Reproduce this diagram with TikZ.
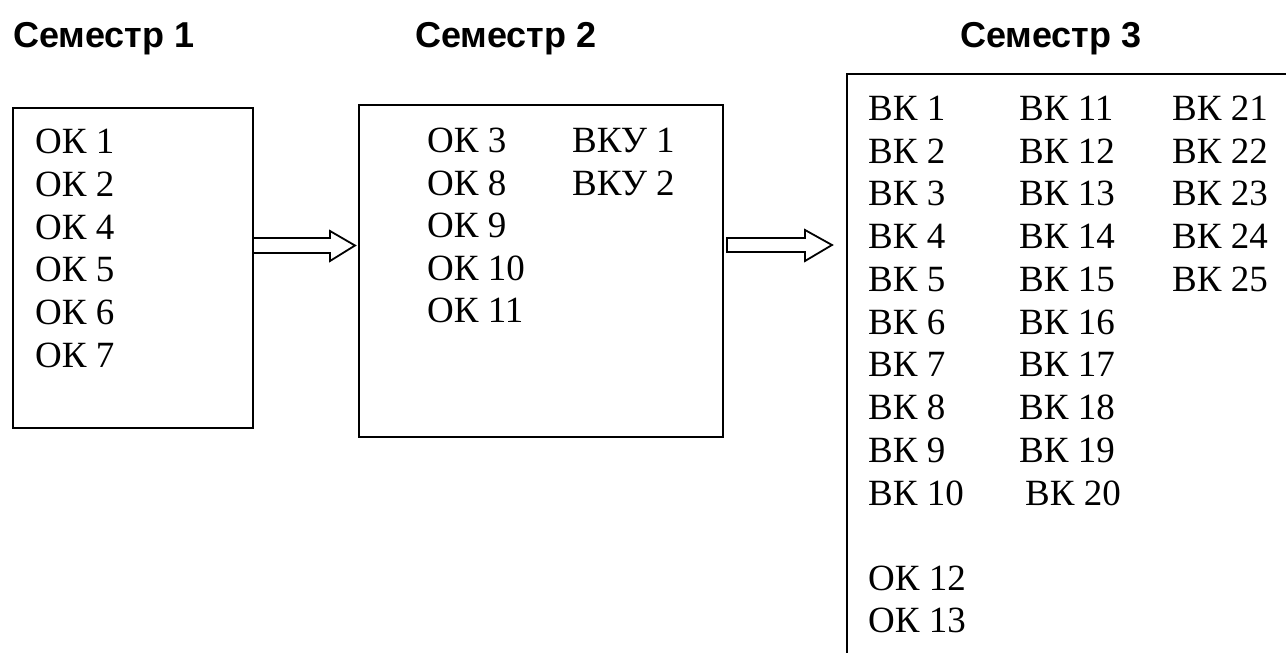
\documentclass[tikz,border=0pt]{standalone}
\usepackage{fontspec}
\setmainfont{Liberation Serif}
\newfontfamily\headfont{Liberation Sans}
\usetikzlibrary{positioning}

\tikzset{
  head/.style={anchor=base west, inner sep=0, font=\headfont\bfseries\fontsize{36}{42}\selectfont},
  item/.style={anchor=base west, inner sep=0, font=\fontsize{37}{42}\selectfont},
  semline/.style={black, line width=2pt},
  blockarrow/.style={black, line width=1.8pt, line join=miter}
}

\begin{document}
\begin{tikzpicture}[x=1pt, y=-1pt]
    \useasboundingbox (0,0) rectangle (1286,653);
    \clip (0,0) rectangle (1286,653);

    % Titres des semestres
    \node[head] (sem1) at (13,47) {Семестр 1};
    \node[head] (sem2) at (415,47) {Семестр 2};
    \node[head] (sem3) at (960,47) {Семестр 3};

    % Cadres
    \draw[semline] (13,108) rectangle (253,428); % Semestre 1
    \draw[semline] (359,105) rectangle (723,437); % Semestre 2
    \draw[semline] (847,74) rectangle (1320,700); % Semestre 3

    % Flèches
    \coordinate (arr1) at (253,245.5);
    \coordinate (arr2) at (727,245);
    \draw[blockarrow] (arr1) ++(0,-7.5) -- ++(77,0) -- ++(0,-7) -- ++(25,14.5) -- ++(-25,15.5) -- ++(0,-8) -- ++(-77,0);
    \draw[blockarrow] (arr2) ++(0,-7) -- ++(78,0) -- ++(0,-8) -- ++(27,15) -- ++(-27,16) -- ++(0,-9) -- ++(-78,0) -- cycle;

    % Semestre 1
    \node[item] (ok1) at (35,153) {ОК 1};
    \node[item] (ok2) at (35,196) {ОК 2};
    \node[item] (ok4) at (35,239) {ОК 4};
    \node[item] (ok5) at (35,281) {ОК 5};
    \node[item] (ok6) at (35,324) {ОК 6};
    \node[item] (ok7) at (35,367) {ОК 7};

    % Semestre 2
    \node[item] (ok3) at (427,152) {ОК 3};
    \node[item] (ok8) at (427,195) {ОК 8};
    \node[item] (ok9) at (427,237) {ОК 9};
    \node[item] (ok10) at (427,280) {ОК 10};
    \node[item] (ok11) at (427,322) {ОК 11};
    \node[item] (vku1) at (572,152) {ВКУ 1};
    \node[item] (vku2) at (572,195) {ВКУ 2};

    % Semestre 3
    \node[item] (vk1) at (868,120) {ВК 1};
    \node[item] (vk2) at (868,163) {ВК 2};
    \node[item] (vk3) at (868,205) {ВК 3};
    \node[item] (vk4) at (868,248) {ВК 4};
    \node[item] (vk5) at (868,291) {ВК 5};
    \node[item] (vk6) at (868,334) {ВК 6};
    \node[item] (vk7) at (868,376) {ВК 7};
    \node[item] (vk8) at (868,419) {ВК 8};
    \node[item] (vk9) at (868,462) {ВК 9};
    \node[item] (vk10) at (868,505) {ВК 10};

    \node[item] (vk11) at (1019,120) {ВК 11};
    \node[item] (vk12) at (1019,163) {ВК 12};
    \node[item] (vk13) at (1019,205) {ВК 13};
    \node[item] (vk14) at (1019,248) {ВК 14};
    \node[item] (vk15) at (1019,291) {ВК 15};
    \node[item] (vk16) at (1019,334) {ВК 16};
    \node[item] (vk17) at (1019,376) {ВК 17};
    \node[item] (vk18) at (1019,419) {ВК 18};
    \node[item] (vk19) at (1019,462) {ВК 19};
    \node[item] (vk20) at (1025,505) {ВК 20};

    \node[item] (vk21) at (1172,120) {ВК 21};
    \node[item] (vk22) at (1172,163) {ВК 22};
    \node[item] (vk23) at (1172,205) {ВК 23};
    \node[item] (vk24) at (1172,248) {ВК 24};
    \node[item] (vk25) at (1172,291) {ВК 25};

    \node[item] (ok12) at (868,590) {ОК 12};
    \node[item] (ok13) at (868,632) {ОК 13};
\end{tikzpicture}
\end{document}
